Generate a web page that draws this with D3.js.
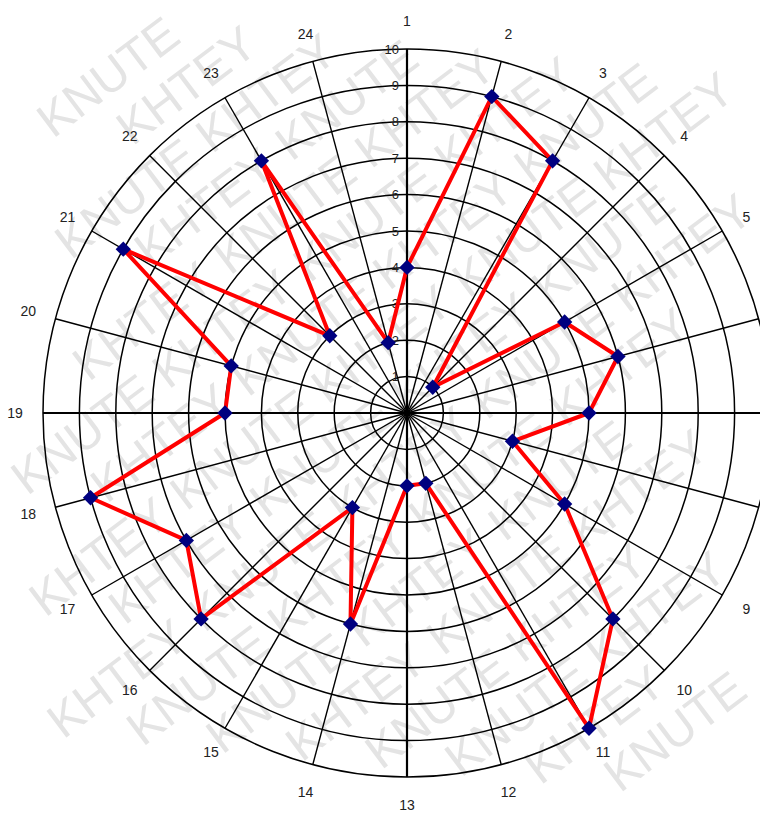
<!DOCTYPE html>
<html>
<head>
<meta charset="utf-8">
<script src="https://cdn.jsdelivr.net/npm/d3@7"></script>
<style>
  html, body { margin: 0; padding: 0; background: #fff; }
  svg { display: block; }
  text { font-family: "Liberation Sans", Arial, sans-serif; }
</style>
</head>
<body>
<svg id="chart" width="760" height="826"></svg>
<script>
// ---- data ----
const categories = ["1","2","3","4","5","6","7","8","9","10","11","12",
                    "13","14","15","16","17","18","19","20","21","22","23","24"];
const values = [4, 9, 8, 1, 5, 6, 5, 3, 5, 8, 10, 2, 2, 6, 3, 8, 7, 9, 5, 5, 9, 3, 8, 2];
const ringTicks = [1, 2, 3, 4, 5, 6, 7, 8, 9, 10];
const watermarkWords = ["KHTEY", "KNUTE"];

// ---- layout ----
const W = 760, H = 826;
const cx = 407, cy = 413, R = 364;

const svg = d3.select("#chart");

// watermark (behind): individual words on a rotated grid, keep only fully visible ones
const deg = -37, rot = deg * Math.PI / 180;
const cosA = Math.cos(rot), sinA = Math.sin(rot);
const wm = svg.append("g");
const fs = 48, lineH = 54, gap = 14;
const probe = wm.append("text").attr("font-size", fs).text(watermarkWords[1]);
const wordW = probe.node().getComputedTextLength();
probe.remove();
const asc = fs * 0.74, desc = fs * 0.04;
for (let row = -18; row <= 18; row++) {
  for (let col = -12; col <= 12; col++) {
    const shift = ((row % 3) + 3) % 3 * (wordW + gap) / 3;
    const u = col * (wordW + gap) + shift;
    const v = row * lineH;
    const px = cx + u * cosA - v * sinA;
    const py = cy + u * sinA + v * cosA;
    const corners = [[0, -asc], [wordW, -asc], [0, desc], [wordW, desc]]
      .map(([x, y]) => [px + x * cosA - y * sinA, py + x * sinA + y * cosA]);
    const inside = corners.every(([x, y]) => x >= 1 && x <= W - 1 && y >= 1 && y <= H - 1);
    if (!inside) continue;
    wm.append("text")
      .attr("font-size", fs)
      .attr("fill", "#e4e4e4")
      .attr("transform", `translate(${px},${py}) rotate(${deg})`)
      .text(watermarkWords[(((col + row) % 2) + 2) % 2]);
  }
}

const g = svg.append("g").attr("transform", `translate(${cx},${cy})`);

const r = d3.scaleLinear().domain([0, 10]).range([0, R]);
const angle = d3.scaleBand().domain(categories).range([0, 2 * Math.PI]).paddingInner(0).paddingOuter(0);
const ang = c => angle(c); // clockwise from top

// rings
g.selectAll("circle.ring").data(ringTicks).enter().append("circle")
  .attr("class", "ring")
  .attr("r", d => r(d))
  .attr("fill", "none")
  .attr("stroke", "#000")
  .attr("stroke-width", 1.5);

// spokes
g.selectAll("line.spoke").data(categories).enter().append("line")
  .attr("class", "spoke")
  .attr("x1", 0).attr("y1", 0)
  .attr("x2", d => r(10) * Math.sin(ang(d)))
  .attr("y2", d => -r(10) * Math.cos(ang(d)))
  .attr("stroke", "#000")
  .attr("stroke-width", (d, i) => (i % 6 === 0 ? 2.2 : 1.4));

// value tick labels along axis 1
g.selectAll("text.tick").data(ringTicks).enter().append("text")
  .attr("class", "tick")
  .attr("x", -8)
  .attr("y", d => -r(d))
  .attr("dy", "0.35em")
  .attr("text-anchor", "end")
  .attr("font-size", 13)
  .attr("fill", "#222")
  .text(d => d);

// category labels (labels falling outside the page are not visible in the reference)
const labR = R + 28;
const catPos = categories.map(c => ({
  c, x: labR * Math.sin(ang(c)), y: -labR * Math.cos(ang(c))
})).filter(p => cx + p.x + 10 <= W && cx + p.x - 10 >= 0);
g.selectAll("text.cat").data(catPos).enter().append("text")
  .attr("class", "cat")
  .attr("x", d => d.x)
  .attr("y", d => d.y)
  .attr("dy", "0.35em")
  .attr("text-anchor", "middle")
  .attr("font-size", 14)
  .attr("fill", "#222")
  .text(d => d.c);

// data line
const line = d3.lineRadial()
  .angle((d, i) => ang(categories[i]))
  .radius(d => r(d))
  .curve(d3.curveLinearClosed);

g.append("path")
  .datum(values)
  .attr("d", line)
  .attr("fill", "none")
  .attr("stroke", "#ff0000")
  .attr("stroke-width", 4)
  .attr("stroke-linejoin", "round");

// markers
g.selectAll("path.marker").data(values).enter().append("path")
  .attr("class", "marker")
  .attr("d", d3.symbol().type(d3.symbolDiamond2).size(150))
  .attr("transform", (d, i) => {
    const a = ang(categories[i]);
    return `translate(${r(d) * Math.sin(a)},${-r(d) * Math.cos(a)})`;
  })
  .attr("fill", "#000080");
</script>
</body>
</html>
